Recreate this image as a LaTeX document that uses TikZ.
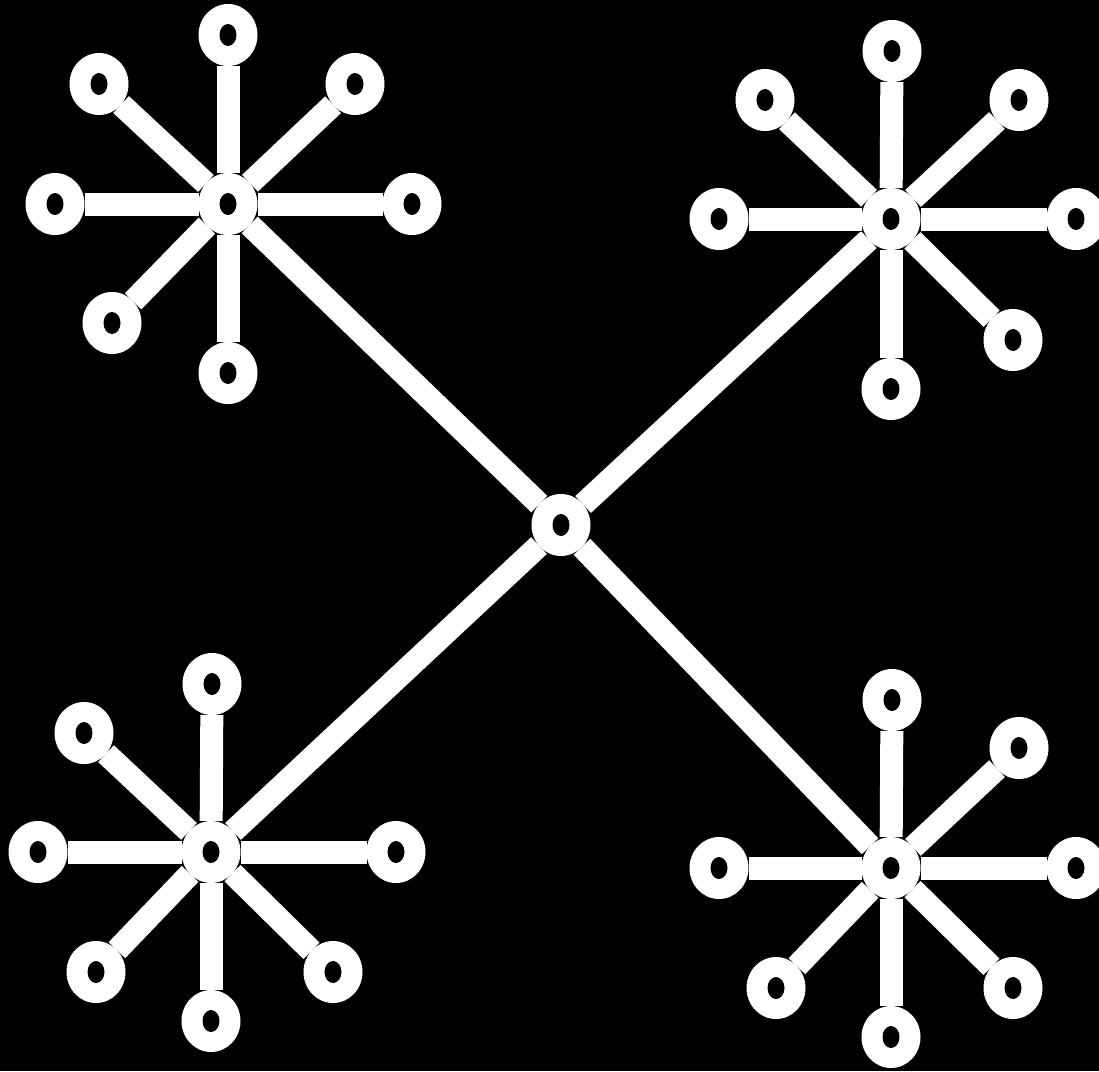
\documentclass[tikz,border=0pt]{standalone}
\usetikzlibrary{shapes.geometric}
\pgfdeclarelayer{bg}
\pgfdeclarelayer{edges}
\pgfsetlayers{bg,edges,main}
\tikzset{
  dot/.style={ellipse, fill=white, draw=none, minimum width=59pt, minimum height=62pt,
    inner sep=0pt, outer sep=0pt,
    path picture={\fill[black] (path picture bounding box.center) ellipse (8.5pt and 11pt);}},
  link/.style={draw=white, line width=23pt, line cap=butt,
    preaction={draw=black, line width=25pt, line cap=butt}}
}
\begin{document}
\begin{tikzpicture}[x=1pt,y=-1pt]
\begin{pgfonlayer}{bg}
\fill[black] (0,0) rectangle (1099,1071);
\end{pgfonlayer}
\useasboundingbox (0,0) rectangle (1099,1071);
% center
\node[dot] (c) at (561,525) {};
% cluster A (top-left)
\node[dot] (a) at (228,204) {};
\node[dot] (a1) at (228,35) {};
\node[dot] (a2) at (99,84) {};
\node[dot] (a3) at (355,84) {};
\node[dot] (a4) at (55,204) {};
\node[dot] (a5) at (412,204) {};
\node[dot] (a6) at (112,323) {};
\node[dot] (a7) at (228,373) {};
% cluster B (top-right)
\node[dot] (b) at (891,219) {};
\node[dot] (b1) at (892,51) {};
\node[dot] (b2) at (765,100) {};
\node[dot] (b3) at (1019,100) {};
\node[dot] (b4) at (719,219) {};
\node[dot] (b5) at (1076,219) {};
\node[dot] (b6) at (1013,340) {};
\node[dot] (b7) at (891,389) {};
% cluster D (bottom-left)
\node[dot] (d) at (211,852) {};
\node[dot] (d1) at (212,684) {};
\node[dot] (d2) at (84,733) {};
\node[dot] (d3) at (38,852) {};
\node[dot] (d4) at (396,852) {};
\node[dot] (d5) at (96,972) {};
\node[dot] (d6) at (333,972) {};
\node[dot] (d7) at (211,1021) {};
% cluster E (bottom-right)
\node[dot] (e) at (891,868) {};
\node[dot] (e1) at (892,700) {};
\node[dot] (e2) at (1019,748) {};
\node[dot] (e3) at (719,868) {};
\node[dot] (e4) at (1076,868) {};
\node[dot] (e5) at (776,988) {};
\node[dot] (e6) at (1013,988) {};
\node[dot] (e7) at (891,1037) {};
\begin{pgfonlayer}{edges}
\draw[link] (c) -- (a);
\draw[link] (c) -- (b);
\draw[link] (c) -- (d);
\draw[link] (c) -- (e);
\foreach \h in {a,b,d,e}{
  \foreach \i in {1,...,7}{
    \draw[link] (\h) -- (\h\i);
  }
}
\end{pgfonlayer}
\end{tikzpicture}
\end{document}
